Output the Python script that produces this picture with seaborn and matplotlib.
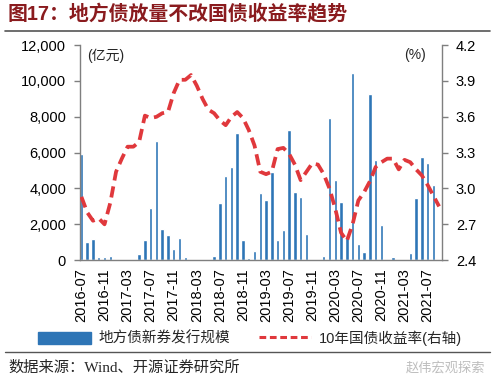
import matplotlib
matplotlib.use("Agg")
import matplotlib.pyplot as plt
import matplotlib.ticker as mticker
from matplotlib.patches import Patch
from matplotlib.lines import Line2D
import seaborn as sns
import pandas as pd

# ---- data ----
months = pd.date_range("2016-07-01", "2021-09-01", freq="MS").strftime("%Y-%m").tolist()
issuance = [5900, 1000, 1200, 150, 150, 250, 50, 0, 0, 0,
            320, 1150, 2900, 6650, 1750, 1400, 600, 1250, 200, 0,
            0, 0, 0, 220, 3200, 4700, 5200, 7100, 1100, 100,
            500, 3750, 3350, 4900, 1150, 1700, 7250, 3800, 3500, 1450,
            0, 0, 250, 7950, 4450, 3250, 1300, 10450, 900, 450,
            9300, 5600, 1950, 0, 200, 0, 0, 420, 3450, 5750,
            5400, 4200, 0]
yield10 = [2.93, 2.80, 2.73, 2.75, 2.70, 2.88, 3.14, 3.25, 3.35, 3.35,
           3.39, 3.61, 3.59, 3.60, 3.63, 3.64, 3.80, 3.91, 3.91, 3.95,
           3.86, 3.75, 3.66, 3.63, 3.57, 3.53, 3.60, 3.64, 3.59, 3.49,
           3.36, 3.14, 3.12, 3.14, 3.33, 3.34, 3.29, 3.20, 3.07, 3.14,
           3.21, 3.20, 3.12, 3.00, 2.83, 2.63, 2.56, 2.70, 2.90, 2.97,
           3.06, 3.18, 3.22, 3.25, 3.25, 3.16, 3.24, 3.22, 3.16, 3.11,
           3.03, 2.94, 2.85]
bar_label = "地方债新券发行规模"
line_label = "10年国债收益率(右轴)"
title = "图17：地方债放量不改国债收益率趋势"
source = "数据来源：Wind、开源证券研究所"

df = pd.DataFrame({"month": months, "issuance": issuance,
                   "pos": range(len(months)), "yield10": yield10})

sns.set_style("white")
plt.rcParams["font.family"] = ["Liberation Sans", "Noto Sans CJK SC"]

BLUE = "#2E75B6"
RED = "#E0383C"
GREY = "#7F7F7F"

fig = plt.figure(figsize=(5.0, 3.86), dpi=100)
ax = fig.add_axes([0.160, 0.326, 0.724, 0.557])

sns.barplot(data=df, x="month", y="issuance", color=BLUE, width=0.6,
            saturation=1, ax=ax, order=months)
XL = (-0.25, 62.5)
ax.set_ylim(0, 12000)
ax.set_xlim(*XL)
ax.set_yticks(range(0, 12001, 2000))
ax.yaxis.set_major_formatter(mticker.FuncFormatter(lambda v, p: f"{int(v):,}"))
ax.set_xticks(range(0, len(months), 4))
ax.set_xticklabels([months[i] for i in range(0, len(months), 4)], rotation=90)
ax.set_xlabel("")
ax.set_ylabel("")

ax2 = ax.twinx()
sns.lineplot(data=df, x="pos", y="yield10", ax=ax2, color=RED, lw=2.7,
             linestyle=(0, (3.0, 1.6)), legend=False)
ax2.set_ylim(2.4, 4.2)
ax2.set_yticks([2.4, 2.7, 3.0, 3.3, 3.6, 3.9, 4.2])
ax2.yaxis.set_major_formatter(mticker.FormatStrFormatter("%.1f"))
ax2.set_xlim(*XL)
ax2.set_xlabel("")
ax2.set_ylabel("")

for a in (ax, ax2):
    a.spines["top"].set_visible(False)
    for s in ("left", "bottom", "right"):
        a.spines[s].set_color(GREY)
        a.spines[s].set_linewidth(1.0)
    a.tick_params(axis="both", colors="black", labelsize=10.5, length=4,
                  width=1.0, direction="out", color=GREY)
ax.tick_params(axis="x", pad=2)
ax.tick_params(axis="y", pad=6)
ax2.tick_params(axis="y", pad=6)
ax2.spines["left"].set_visible(False)
ax2.spines["bottom"].set_visible(False)
ax.spines["right"].set_visible(False)

ax.text(0.02, 0.985, "(亿元)", transform=ax.transAxes, ha="left", va="top",
        fontsize=10)
ax.text(0.895, 0.985, "(%)", transform=ax.transAxes, ha="left", va="top",
        fontsize=10)

handles = [Patch(facecolor=BLUE, edgecolor=BLUE),
           Line2D([0], [0], color=RED, lw=2.2, linestyle=(0, (2.2, 1.2)))]
fig.legend(handles, [bar_label, line_label], loc="center",
           bbox_to_anchor=(0.5, 0.124), ncol=2, frameon=False, fontsize=10.5,
           handlelength=3.6, handleheight=0.9, columnspacing=2.0,
           handletextpad=0.5)

fig.text(0.016, 0.962, title, fontsize=14.3, fontweight="bold",
         color="#8A1B1E", ha="left", va="center")
fig.add_artist(Line2D([0.01, 0.98], [0.92, 0.92], color="#555555", lw=1.2,
                      transform=fig.transFigure))
fig.add_artist(Line2D([0.01, 0.98], [0.088, 0.088], color="#555555", lw=1.0,
                      transform=fig.transFigure))
fig.text(0.016, 0.047, source, fontsize=11, ha="left", va="center",
         family=["Liberation Serif", "Noto Sans CJK SC"])
fig.text(0.97, 0.047, "赵伟宏观探索", fontsize=9.5, ha="right", va="center",
         color="#BDBDBD")

fig.savefig("out.png", dpi=100)
